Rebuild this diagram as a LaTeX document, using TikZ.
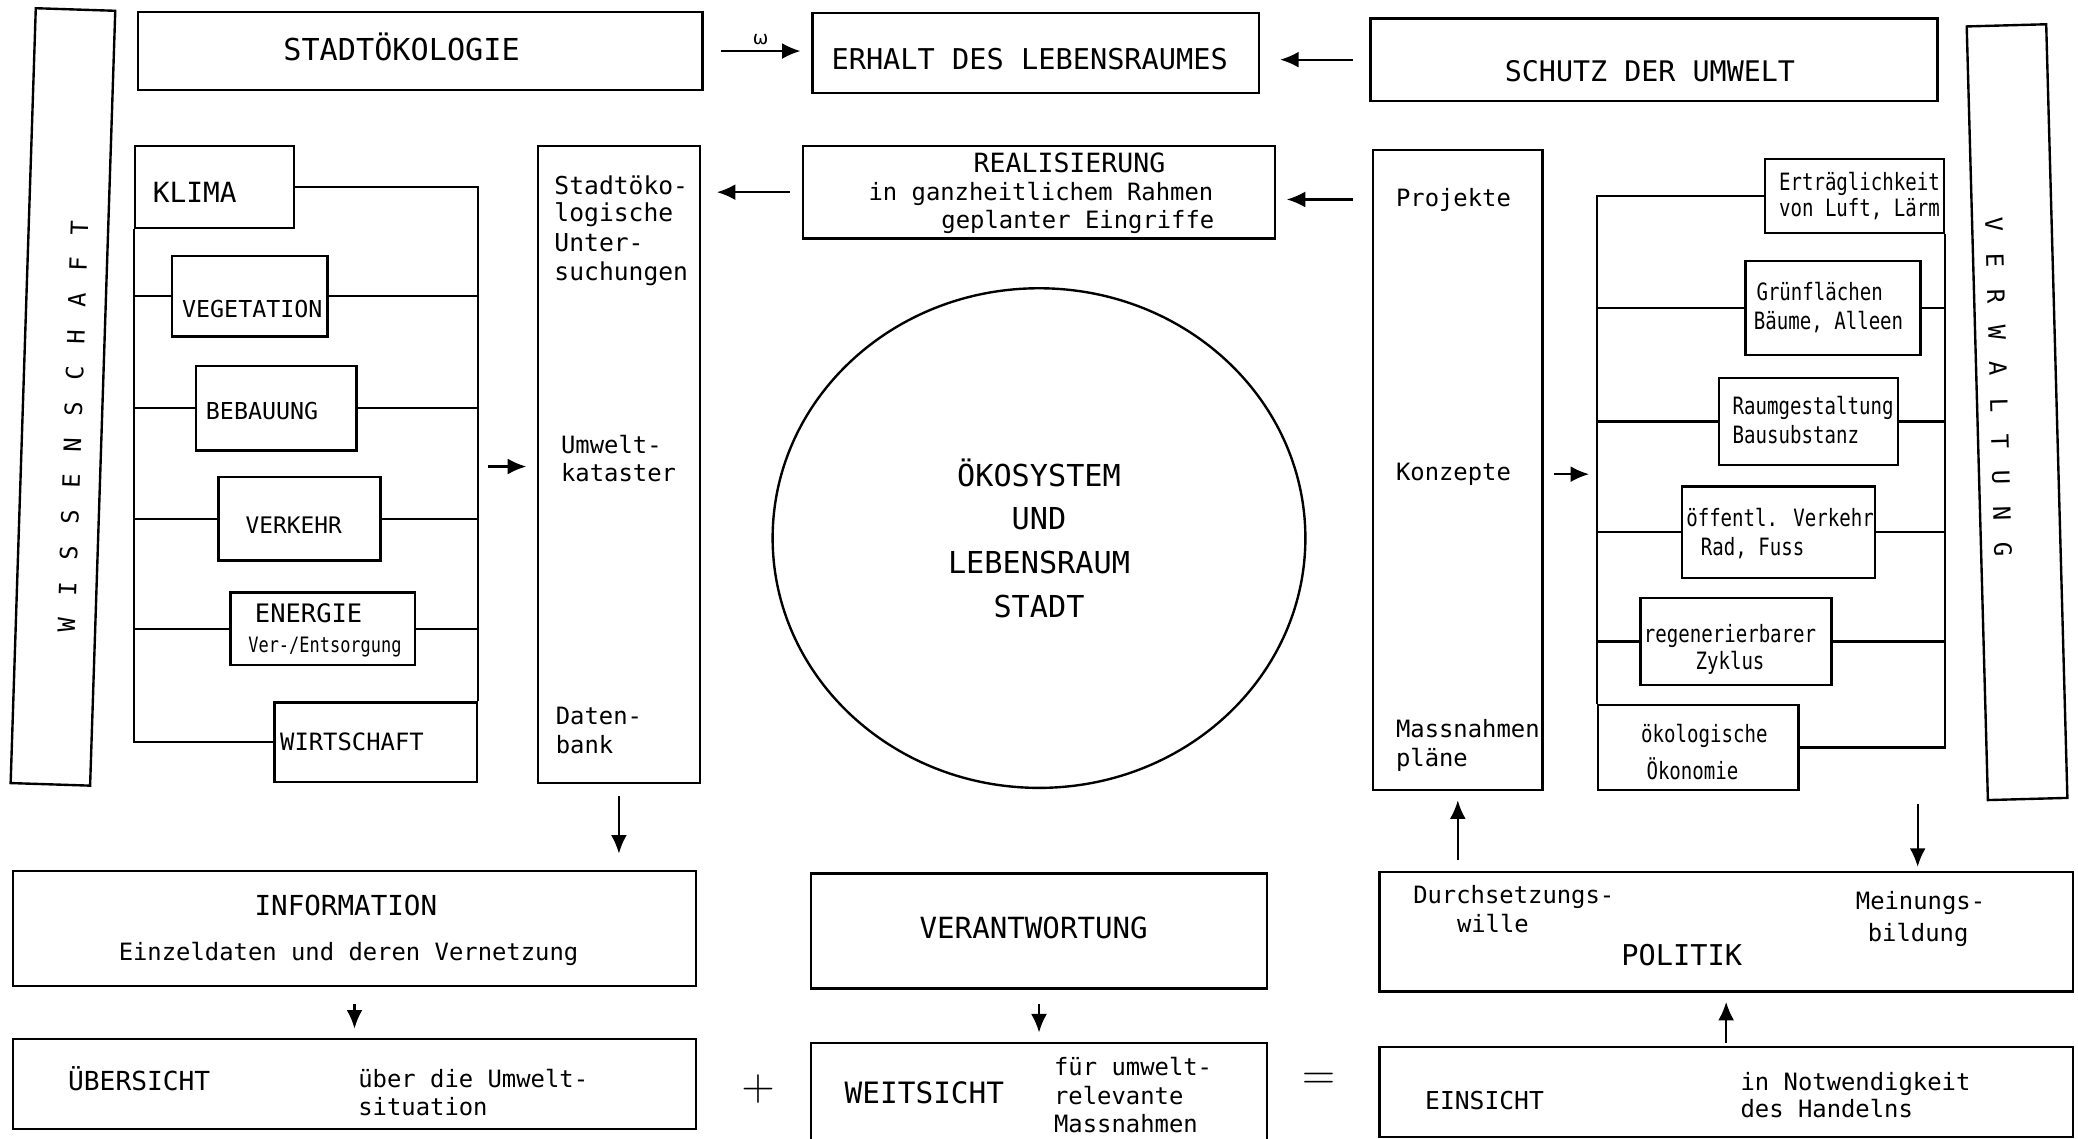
\documentclass[tikz,border=0pt]{standalone}
\usepackage{fontspec}
\setmainfont{DejaVu Sans}
\newfontfamily\tw{DejaVu Sans Mono}
\newfontfamily\hw[FakeStretch=0.8]{DejaVu Sans Mono}
\usetikzlibrary{arrows.meta,shapes.geometric}
\newcommand\fsz[1]{\fontsize{#1}{#1}\selectfont}
\newcommand\mybox[5]{\node[box,minimum width={(#4-#2)*0.5pt},minimum height={(#5-#3)*0.5pt}] (#1) at ({(#2+#4)/2},{(#3+#5)/2}) {};}
\newcommand\lsp{\kern8.2pt}
\begin{document}
\begin{tikzpicture}[x=0.5pt,y=-0.5pt,
 box/.style={draw,line width=0.9pt,inner sep=0pt,rectangle},
 con/.style={line width=0.8pt},
 arr/.style={line width=0.8pt,-{Latex[length=7pt,width=6pt]}},
 ctrtxt/.style={inner sep=0pt,anchor=mid},
 lefttxt/.style={inner sep=0pt,anchor=mid west},
 typ/.style={inner sep=0pt,anchor=mid west,font=\tw\fsz{9}},
 hnd/.style={inner sep=0pt,anchor=mid west,font=\hw\fsz{9}},
]
\useasboundingbox (0,0) rectangle (1568,859);

% side bars
\node[box,rotate=-1.86,minimum width=30pt,minimum height=292.5pt] (wiss) at (47.5,299.5) {};
\node[inner sep=0pt,rotate=88.14,font=\tw\fsz{9}] (twiss) at (55,322) {W\lsp I\lsp S\lsp S\lsp E\lsp N\lsp S\lsp C\lsp H\lsp A\lsp F\lsp T};
\node[box,rotate=1.57,minimum width=30pt,minimum height=292pt] (verw) at (1522,311) {};
\node[inner sep=0pt,rotate=-88.43,font=\tw\fsz{9}] (tverw) at (1508,292) {V\lsp E\lsp R\lsp W\lsp A\lsp L\lsp T\lsp U\lsp N\lsp G};

% top row
\mybox{stadt}{104}{9}{530}{68}
\node[ctrtxt,font=\tw\fsz{11.4}] (tstadt) at (303,40) {STADTÖKOLOGIE};
\mybox{erhalt}{613}{10}{950}{70}
\node[ctrtxt,font=\tw\fsz{10.8}] (terhalt) at (777,47) {ERHALT DES LEBENSRAUMES};
\mybox{schutz}{1034}{14}{1462}{76}
\node[ctrtxt,font=\tw\fsz{10.7}] (tschutz) at (1245,56) {SCHUTZ DER UMWELT};
\node[inner sep=0pt,font=\fsz{7}] (omega) at (574,30) {ω};

% left group
\mybox{klima}{102}{110}{222}{172}
\node[lefttxt,font=\tw\fsz{10.5}] (tklima) at (115,147) {KLIMA};
\mybox{veg}{130}{193}{247}{254}
\node[lefttxt,font=\tw\fsz{8.8}] (tveg) at (137,234) {VEGETATION};
\mybox{beb}{148}{276}{269}{340}
\node[lefttxt,font=\tw\fsz{8.8}] (tbeb) at (155,311) {BEBAUUNG};
\mybox{verk}{165}{360}{287}{423}
\node[lefttxt,font=\tw\fsz{8.6}] (tverk) at (185,397) {VERKEHR};
\mybox{ener}{174}{447}{313}{502}
\node[lefttxt,font=\tw\fsz{9.6}] (tener) at (192,464) {ENERGIE};
\node[inner sep=0pt,anchor=mid west,font=\hw\fsz{8}] (tents) at (187,487) {Ver-/Entsorgung};
\mybox{wirt}{207}{530}{360}{590}
\node[lefttxt,font=\tw\fsz{9}] (twirt) at (211,561) {WIRTSCHAFT};

\draw[con] (klima.south west) -- (klima.south west |- wirt.west) -- (wirt.west);
\draw[con] (klima.east) -- (klima.east -| wirt.north east) -- (wirt.north east);
\foreach \b in {veg,beb,verk,ener}{
  \draw[con] (\b.west -| klima.west) -- (\b.west);
  \draw[con] (\b.east) -- (\b.east -| wirt.east);
}
\coordinate (lbr) at (360,352);

% Stadtoekologische Untersuchungen
\mybox{unters}{406}{110}{528}{591}
\node[typ,font=\tw\fsz{9.3}] (tu1) at (418,141) {Stadtöko-};
\node[typ,font=\tw\fsz{9.3}] (tu2) at (418,162) {logische};
\node[typ,font=\tw\fsz{9.3}] (tu3) at (418,184) {Unter-};
\node[typ,font=\tw\fsz{9.3}] (tu4) at (418,206) {suchungen};
\node[typ] (tu5) at (423,337) {Umwelt-};
\node[typ] (tu6) at (423,358) {kataster};
\node[typ] (tu7) at (419,541) {Daten-};
\node[typ] (tu8) at (419,563) {bank};

% Realisierung
\mybox{real}{606}{110}{962}{180}
\node[ctrtxt,font=\tw\fsz{10}] (treal) at (807,125) {REALISIERUNG};
\node[typ] (treal2) at (655,146) {in ganzheitlichem Rahmen};
\node[typ] (treal3) at (710,167) {geplanter Eingriffe};

% circle
\node[draw,ellipse,line width=0.9pt,inner sep=0pt,minimum width=201pt,minimum height=188.5pt,align=center,font={\tw\fontsize{11.4}{16.5}\selectfont}] (eco) at (784,406) {ÖKOSYSTEM\\UND\\LEBENSRAUM\\STADT};

% Projekte
\mybox{proj}{1036}{113}{1164}{596}
\node[typ] (tproj) at (1053,150) {Projekte};
\node[typ] (tkonz) at (1053,357) {Konzepte};
\node[typ] (tmass) at (1053,551) {Massnahmen};
\node[typ] (tplae) at (1053,573) {pläne};

% right group
\mybox{ertr}{1332}{120}{1467}{176}
\node[hnd] (te1) at (1342,138) {Erträglichkeit};
\node[hnd] (te2) at (1342,158) {von Luft, Lärm};
\mybox{gruen}{1317}{197}{1449}{268}
\node[hnd] (tg1) at (1325,221) {Grünflächen};
\node[hnd] (tg2) at (1323,243) {Bäume, Alleen};
\mybox{raum}{1297}{285}{1432}{351}
\node[hnd] (tr1) at (1307,307) {Raumgestaltung};
\node[hnd] (tr2) at (1307,329) {Bausubstanz};
\mybox{oeff}{1269}{367}{1415}{436}
\node[hnd] (to1) at (1272,392) {öffentl. Verkehr};
\node[hnd] (to2) at (1283,414) {Rad, Fuss};
\mybox{regen}{1238}{451}{1382}{517}
\node[hnd] (tz1) at (1240,479) {regenerierbarer};
\node[hnd] (tz2) at (1279,500) {Zyklus};
\mybox{oeko}{1206}{532}{1357}{596}
\node[hnd] (tk1) at (1238,555) {ökologische};
\node[hnd] (tk2) at (1242,583) {Ökonomie};

\draw[con] (ertr.west) -- (ertr.west -| oeko.north west) -- (oeko.north west);
\draw[con] (ertr.south east) -- (ertr.south east |- oeko.east) -- (oeko.east);
\foreach \b in {gruen,raum,oeff,regen}{
  \draw[con] (\b.west -| oeko.west) -- (\b.west);
  \draw[con] (\b.east) -- (\b.east -| ertr.east);
}
\coordinate (vw) at (1447,607);

% bottom
\mybox{info}{10}{657}{525}{744}
\node[ctrtxt,font=\tw\fsz{10.4}] (tinfo) at (261,685) {INFORMATION};
\node[ctrtxt,font=\tw\fsz{9}] (tinfo2) at (263,719) {Einzeldaten und deren Vernetzung};
\mybox{verant}{612}{659}{956}{746}
\node[ctrtxt,font=\tw\fsz{11}] (tverant) at (780,703) {VERANTWORTUNG};
\mybox{polit}{1041}{658}{1564}{748}
\node[typ] (tp1) at (1066,676) {Durchsetzungs-};
\node[typ] (tp2) at (1099,698) {wille};
\node[typ] (tp3) at (1400,681) {Meinungs-};
\node[typ] (tp4) at (1409,705) {bildung};
\node[ctrtxt,font=\tw\fsz{10.8}] (tpol) at (1269,723) {POLITIK};

\mybox{ueber}{10}{784}{525}{852}
\node[lefttxt,font=\tw\fsz{9.9}] (tueb) at (51,817) {ÜBERSICHT};
\node[typ] (tueb2) at (270,815) {über die Umwelt-};
\node[typ] (tueb3) at (270,836) {situation};
\mybox{weit}{612}{787}{956}{864}
\node[lefttxt,font=\tw\fsz{11.1}] (tweit) at (637,827) {WEITSICHT};
\node[typ] (tw2) at (795,806) {für umwelt-};
\node[typ] (tw3) at (795,828) {relevante};
\node[typ] (tw4) at (795,849) {Massnahmen};
\mybox{eins}{1041}{790}{1564}{858}
\node[lefttxt,font=\tw\fsz{9.3}] (teins) at (1075,832) {EINSICHT};
\node[typ] (te3) at (1313,817) {in Notwendigkeit};
\node[typ] (te4) at (1313,838) {des Handelns};

\node[inner sep=0pt,font=\fsz{19}] (plus) at (572,822) {$+$};
\node[inner sep=0pt,font=\fsz{19}] (eq) at (995,816) {$=$};

% arrows
\draw[arr,shorten <=6.5pt,shorten >=4pt] (stadt.east) -- (stadt.east -| erhalt.west);
\draw[arr,shorten <=6pt,shorten >=7.5pt] (schutz.west) -- (schutz.west -| erhalt.east);
\draw[arr,shorten <=4.5pt,shorten >=6pt] (real.west) -- (real.west -| unters.east);
\draw[arr,shorten <=7pt,shorten >=4pt] (proj.west |- tproj) -- (tproj -| real.east);
\draw[arr,shorten <=4pt,shorten >=4pt] (lbr) -- (lbr -| unters.west);
\draw[arr,shorten <=4.5pt,shorten >=6pt] (unters.south) -- (unters.south |- info.north);
\draw[arr,shorten <=4pt,shorten >=3pt] (proj.east |- tkonz) -- (oeko.west |- tkonz);
\draw[arr,shorten <=4pt,shorten >=3.5pt] (proj.south |- polit.north) -- (proj.south);
\draw[arr,shorten >=1.5pt] (vw) -- (vw |- polit.north);
\draw[arr,shorten <=6.5pt,shorten >=3.5pt] (info.south) -- (info.south |- ueber.north);
\draw[arr,shorten <=5.5pt,shorten >=3.5pt] (verant.south) -- (verant.south |- weit.north);
\draw[arr,shorten <=1pt,shorten >=3.5pt] (eins.north) -- (eins.north |- polit.south);
\end{tikzpicture}
\end{document}
